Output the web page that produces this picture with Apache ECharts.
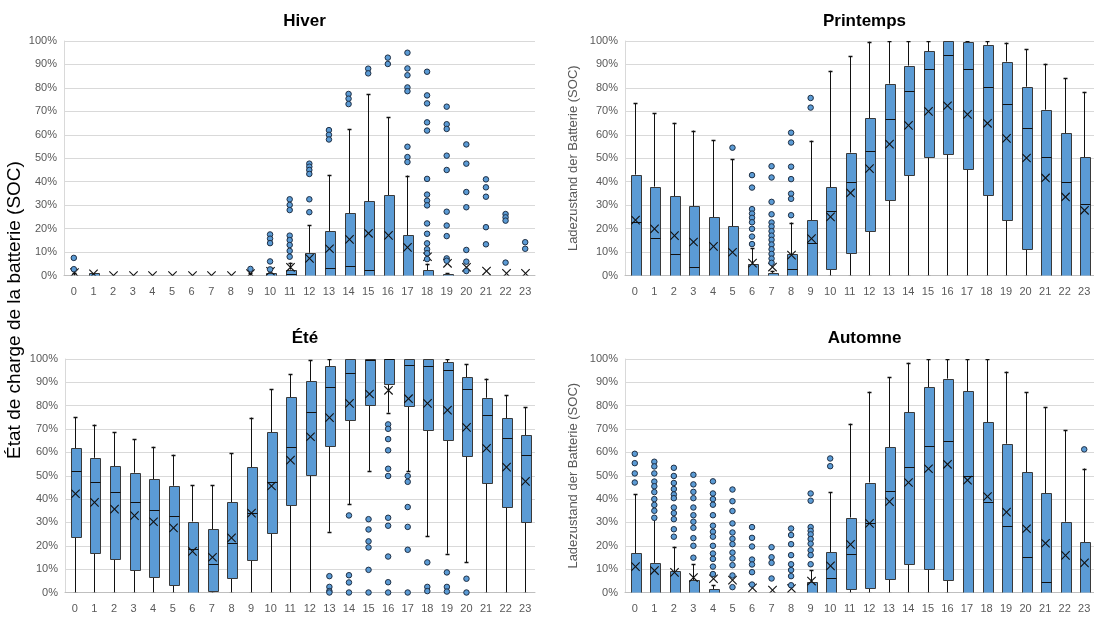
<!DOCTYPE html>
<html>
<head>
<meta charset="utf-8">
<script src="https://cdn.jsdelivr.net/npm/echarts@6/dist/echarts.min.js"></script>
<style>html,body{margin:0;padding:0;background:#fff;}#c{width:1094px;height:619px;}</style>
</head>
<body>
<div id="c"></div>
<script>
const hours = ['0','1','2','3','4','5','6','7','8','9','10','11','12','13','14','15','16','17','18','19','20','21','22','23'];
const titles = ['Hiver', 'Printemps', 'Été', 'Automne'];
const yTitleFr = 'État de charge de la batterie (SOC)';
const yTitleDe = 'Ladezustand der Batterie (SOC)';

// Hiver
const hiverMin  = [0,0,0,0,0,0,0,0,0,0,0,0,0,0,0,0,0,0,0,0,0,0,0,0];
const hiverQ1   = [0,0,0,0,0,0,0,0,0,0,0,0,0,0,0,0,0,0,0,0,0,0,0,0];
const hiverMed  = [0,0,0,0,0,0,0,0,0,0,0,0.5,0,3.2,3.9,2.2,0,0,0,0,0,0,0,0];
const hiverQ3   = [0,1,0,0,0,0,0,0,0,0,1,2.5,9.7,19.0,26.5,31.6,34.2,17.1,2.3,0.5,0,0,0,0];
const hiverMax  = [1,1,0,0,0,0,0,0,0,1,3,5.5,21.5,42.9,62.5,77.3,67.4,42.6,5,1,0,0,0,0];
const hiverMean = [1.2,0.7,0,0,0,0,0,0,0,0.8,1.8,3.5,7.3,11.4,15.4,18.0,17.1,12.0,8.0,5.2,3.5,1.9,0.9,0.9];
const hiverOut  = [[7.5,2.7],[],[],[],[],[],[],[],[],[2.8],[17.5,15.7,13.8,6.0,2.6],
  [32.5,30.1,27.9,17.0,15.1,13.0,10.5,8.0],[47.7,46.4,45.0,43.3,32.5,27.0],[62,60,58],[77.4,75.4,73.1],
  [88.2,86.2],[92.9,90.2],[95.0,88.3,85.4,80.2,78.6,54.9,50.5,48.4],
  [86.9,76.8,73.4,65.3,61.8,41.2,34.5,31.9,29.9,22.2,17.8,13.7,11.2,9.5,7],
  [72.0,64.5,62.5,51.1,45.0,27.2,21.3,16.8,7.3,6.3],[55.9,47.7,35.6,29.1,10.9,5.9,1.9],
  [41.0,37.6,33.6,20.6,13.3],[26.2,24.8,23.4,5.5],[14.2,11.4]];

// Printemps
const printMin  = [0,0,0,0,0,0,0,0,0,0,0,0,0,0,0,0,0,0,0,0,0,0,0,0];
const printQ1   = [0,0,0,0,0,0,0,0,0,0,2.6,9.6,18.8,32.1,42.9,50.5,51.8,45.4,34.3,23.5,11.2,0,0,0];
const printMed  = [23,15.8,9.1,3.7,0,0,0,0,2.7,13.7,27.4,40.0,52.9,66.9,78.8,88.2,94.2,87.9,80.2,73.0,62.9,50.4,40.0,30.5];
const printQ3   = [43.0,37.9,33.7,29.5,24.9,20.9,4.8,1.1,9.1,23.5,37.7,52.4,67.0,81.8,89.5,95.7,100,99.4,98.4,91.2,80.5,70.7,60.6,50.5];
const printMax  = [73.4,69.2,65.1,61.8,57.8,49.6,11.6,2,22.6,57.5,87.3,93.6,99.7,100,100,100,100,100,100,99.3,96.6,90.3,84.1,78.3];
const printMean = [23.6,19.9,17.0,14.3,12.4,9.9,5.3,3.6,8.7,15.7,25.0,35.2,45.6,56.0,64.0,70.0,72.4,68.7,64.9,58.5,50.1,41.6,33.5,27.8];
const printOut  = [[],[],[],[],[],[54.5],[42.8,37.5,28.3,26.4,24.6,22.7,19.9,16.6,13.4],
  [46.6,41.8,31.4,26.1,22.6,20.9,18.9,17.0,15.2,13.2,11.2,9.2,7.2,5.4],
  [60.9,56.7,46.4,41.1,34.9,32.7,25.7],[75.7,71.6],[],[],[],[],[],[],[],[],[],[],[],[],[],[]];

// Été
const eteMin  = [0,0,0,0,0,0,0,0,0,0,0,0,0,26.0,37.7,52.1,77.0,52,24.0,16.6,12.9,0,0,0];
const eteQ1   = [23.7,17.1,14.3,9.6,6.7,3.4,0,0.7,6.3,14.1,25.6,37.3,50.4,62.6,73.9,80.4,89.1,79.9,69.6,65.1,58.4,46.7,36.7,30.1];
const eteMed  = [51.9,47.4,42.9,38.9,35.4,32.9,18.7,12.3,21.1,33.9,47.3,62.3,77.4,88.0,94.1,99.6,100,97.3,97.0,95.3,87.1,76.0,66.0,58.7];
const eteQ3   = [61.7,57.7,54.1,51.3,48.4,45.7,30.4,27.0,38.6,53.7,68.7,83.6,90.6,96.9,100,100,100,100,100,98.7,92.1,83.4,74.7,67.3];
const eteMax  = [75.0,71.9,68.7,65.7,62.4,59.0,45.9,46.0,59.6,74.9,87.1,93.4,99.4,100,100,100,100,100,100,100,97.7,91.6,84.4,79.3];
const eteMean = [42.3,38.6,35.7,32.9,30.3,27.7,17.6,15.1,23.4,34.0,45.6,56.7,66.7,74.9,81.0,85.0,86.6,83.0,81.0,78.1,70.7,61.7,53.7,47.6];
const eteOut  = [[],[],[],[],[],[],[],[],[],[],[],[],[],[7.0,2.4,0.6,0],[33.0,7.4,4.3,0],
  [31.4,27.0,21.9,19.3,9.7,0],[72.0,70.1,65.7,60.9,53.0,49.9,32.0,28.6,15.4,4.4,0],
  [49.9,47.4,36.6,28.1,18.3,0],[12.9,2.4,0.6],[8.6,2.4,0.4],[5.9,0],[],[],[]];

// Automne
const autMin  = [0,0,0,0,0,0,0,0,0,0,0,0,0,0,0,0,0,0,0,0,0,0,0,0];
const autQ1   = [0,0,0,0,0,0,0,0,0,0,0,1.6,2.1,5.6,12.0,9.9,5.3,0,0,0,0,0,0,0];
const autMed  = [0,0,0,0,0,0,0,0,0,0,6.0,16.7,29.6,43.6,53.9,62.7,65.0,50.1,38.6,28.3,15.0,4.7,0,0];
const autQ3   = [16.9,12.7,9.1,5.3,1.4,0,0,0,0,4.7,17.3,32.1,47.1,62.1,77.3,87.9,91.6,86.1,72.9,63.7,51.4,42.4,30.3,21.6];
const autMax  = [42.0,31.4,19.6,12.1,3,0,0,0,0,9.6,42.9,72.3,86.0,92.1,98.4,100,100,100,99.9,94.6,85.7,79.3,69.6,53.1];
const autMean = [11.1,9.4,8.6,6.4,5.9,5.3,2.0,1.0,1.7,4.9,11.4,20.6,29.6,38.9,47.1,53.0,54.9,48.1,41.1,34.4,27.3,21.1,15.9,12.7];
const autOut  = [[59.4,55.4,51.0,47.1],[56,54,51,47.5,45.5,43,40,37.5,35,32],
  [53.4,49.9,46.9,44.3,42,40.4,36.4,34,31.4,27.1,23.9],[50.4,46.3,43.1,40.4,36.4,33.1,30.3,27.7,23.3,20.0,14.9],
  [47.6,42.4,40.0,37.6,33.1,28.6,26.0,23.9,20.0,16.7,14.4,11.1,7.9],
  [44.1,39.1,34.9,29.6,25.7,23.0,20.7,17.1,14.6,11.7,7.3,2.3],[28.0,23.4,19.7,14.1,12.0,8.7,3.4],
  [19.4,15.1,12.7,6.0],[27.4,24.6,20.7,16.0,12.1,9.6,7.0,3.1],
  [42.4,39.3,28.0,26.4,24.9,22.9,20.9,18.1,16.0,12.1],[57.4,54.1],[],[],[],[],[],[],[],[],[],[],[],[],[61.3]];

const panels = [
  [hiverMin, hiverQ1, hiverMed, hiverQ3, hiverMax, hiverMean, hiverOut],
  [printMin, printQ1, printMed, printQ3, printMax, printMean, printOut],
  [eteMin, eteQ1, eteMed, eteQ3, eteMax, eteMean, eteOut],
  [autMin, autQ1, autMed, autQ3, autMax, autMean, autOut]
];

const BOX = '#5B9BD5';
const EDGE = '#3a3a3a';
const GREY = '#595959';
const FONT = '"Liberation Sans", Arial, sans-serif';

const grids = [
  {left: 64, top: 41, width: 471, height: 234.5},
  {left: 625, top: 41, width: 469, height: 234.5},
  {left: 65, top: 359, width: 470, height: 233.5},
  {left: 625, top: 359, width: 469, height: 233.5}
];

function px(v){ return Math.round(v) + 0.5; }

function renderBox(params, api) {
  const i = api.value(0);
  const mn = api.value(1), q1 = api.value(2), md = api.value(3), q3 = api.value(4), mx = api.value(5), mean = api.value(6);
  const band = api.size([1, 0])[0];
  const bw = band * 0.5;
  const cx = px(api.coord([i, 0])[0]);
  const y = v => api.coord([i, v])[1];
  const ln = (x1, y1, x2, y2, w, c) => ({type: 'line', shape: {x1, y1, x2, y2}, style: {stroke: c || '#111', lineWidth: w || 1}});
  const ch = [];
  const cap = 2;
  if (mx > q3) {
    ch.push(ln(cx, y(q3), cx, y(mx)));
    ch.push(ln(cx - cap, px(y(mx)), cx + cap, px(y(mx)), 1.4));
  }
  if (mn < q1) {
    ch.push(ln(cx, y(q1), cx, y(mn)));
    ch.push(ln(cx - cap, px(y(mn)), cx + cap, px(y(mn)), 1.4));
  }
  if (q3 > q1) {
    const x0 = Math.round(cx - bw / 2) + 0.5;
    const yt = px(y(q3)), yb = px(y(q1));
    ch.push({type: 'rect', shape: {x: x0, y: yt, width: Math.round(bw), height: yb - yt},
      style: {fill: BOX, stroke: EDGE, lineWidth: 1}});
    ch.push(ln(x0, px(y(md)), x0 + Math.round(bw), px(y(md)), 1.2, '#111'));
  }
  const ym = y(mean), s = 4.2;
  ch.push(ln(cx - s, ym - s, cx + s, ym + s, 1.1, '#111'));
  ch.push(ln(cx - s, ym + s, cx + s, ym - s, 1.1, '#111'));
  return {type: 'group', children: ch};
}

const option = {
  animation: false,
  backgroundColor: '#fff',
  textStyle: {fontFamily: FONT},
  title: titles.map((t, k) => ({
    text: t,
    left: grids[k].left + grids[k].width / 2,
    top: k < 2 ? 8 : 325,
    textAlign: 'center',
    textStyle: {fontSize: 17, fontWeight: 'bold', color: '#000', fontFamily: FONT}
  })),
  grid: grids,
  xAxis: grids.map((g, k) => ({
    type: 'category', gridIndex: k, data: hours,
    axisTick: {show: false},
    axisLine: {lineStyle: {color: '#bfbfbf'}},
    axisLabel: {color: GREY, fontSize: 11, margin: 11, interval: 0, fontFamily: FONT},
    splitLine: {show: false}
  })),
  yAxis: grids.map((g, k) => ({
    type: 'value', gridIndex: k, min: 0, max: 100, interval: 10,
    name: (k % 2 === 1) ? yTitleDe : '',
    nameLocation: 'middle', nameGap: 45, nameRotate: 90,
    nameTextStyle: {color: GREY, fontSize: 13, fontFamily: FONT},
    axisLine: {show: true, lineStyle: {color: '#d9d9d9'}},
    axisTick: {show: false},
    axisLabel: {color: GREY, fontSize: 11, margin: 7, formatter: '{value}%', fontFamily: FONT},
    splitLine: {lineStyle: {color: '#d9d9d9'}}
  })),
  graphic: [{
    type: 'text', x: 15, y: 310, rotation: Math.PI / 2,
    style: {text: yTitleFr, fill: '#000', font: '19px "Liberation Sans", Arial, sans-serif',
      textAlign: 'center', textVerticalAlign: 'middle'}
  }],
  series: []
};

panels.forEach((p, k) => {
  const [mn, q1, md, q3, mx, mean, out] = p;
  option.series.push({
    type: 'custom', xAxisIndex: k, yAxisIndex: k, clip: true,
    renderItem: renderBox,
    encode: {x: 0, y: [1, 2, 3, 4, 5]},
    data: hours.map((h, i) => [i, mn[i], q1[i], md[i], q3[i], mx[i], mean[i]]),
    z: 2
  });
  option.series.push({
    type: 'scatter', xAxisIndex: k, yAxisIndex: k,
    symbol: 'circle', symbolSize: 5.5,
    itemStyle: {color: BOX, borderColor: '#1f2f44', borderWidth: 1, opacity: 1},
    data: out.flatMap((arr, i) => arr.map(v => [i, v])),
    z: 3
  });
});

const chart = echarts.init(document.getElementById('c'), null, {renderer: 'canvas'});
chart.setOption(option);
</script>
</body>
</html>
